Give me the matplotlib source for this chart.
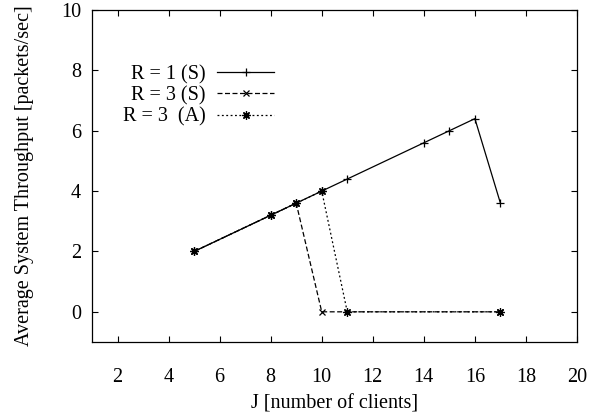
import matplotlib
matplotlib.use("Agg")
import matplotlib.pyplot as plt

plt.rcParams['font.family'] = ['Liberation Serif', 'DejaVu Serif']

# Throughput vs. number of clients
j_r1s = [5, 8, 9, 10, 11, 14, 15, 16, 17]
thr_r1s = [2.0, 3.2, 3.6, 4.0, 4.4, 5.6, 6.0, 6.4, 3.6]

j_r3s = [5, 8, 9, 10, 17]
thr_r3s = [2.0, 3.2, 3.6, 0.0, 0.0]

j_r3a = [5, 8, 9, 10, 11, 17]
thr_r3a = [2.0, 3.2, 3.6, 4.0, 0.0, 0.0]

labels = ["R = 1 (S)", "R = 3 (S)", "R = 3  (A)"]
x_ticks = [2, 4, 6, 8, 10, 12, 14, 16, 18, 20]
y_ticks = [0, 2, 4, 6, 8, 10]

fig = plt.figure(figsize=(6.01, 4.18), dpi=100)
ax = fig.add_axes([92 / 601, 1 - 342 / 418, (577 - 92) / 601, (342 - 10) / 418])

lw = 0.9
ax.plot(j_r1s, thr_r1s, color='black', lw=lw, marker='+', ms=5.5, mew=0.9,
        label=labels[0])
ax.plot(j_r3s, thr_r3s, color='black', lw=lw, ls=(0, (4, 2)), marker='x', ms=4.5,
        mew=0.9, label=labels[1])
ax.plot(j_r3a, thr_r3a, color='black', lw=lw, ls=(0, (1.5, 2)), marker=(8, 2, 0),
        ms=6, mew=0.9, label=labels[2])

ax.set_xlim(1, 20)
ax.set_ylim(-1, 10)
ax.set_xticks(x_ticks)
ax.set_yticks(y_ticks)
ax.tick_params(direction='in', length=4, width=0.8, top=True, right=True,
               labelsize=14.5)
ax.tick_params(axis='x', pad=19)
ax.tick_params(axis='y', pad=8)
for s in ax.spines.values():
    s.set_linewidth(0.9)

ax.set_xlabel("J [number of clients]", fontsize=14.5, labelpad=5)
ax.set_ylabel("Average System Throughput [packets/sec]", fontsize=14.5, labelpad=19)

leg = ax.legend(loc='upper left', bbox_to_anchor=(0.063, 0.835), frameon=False,
                markerfirst=False, fontsize=14.5, handlelength=2.8,
                handletextpad=0.6, labelspacing=0.1, numpoints=1,
                borderaxespad=0, borderpad=0)

fig.savefig("out.png", dpi=100)
